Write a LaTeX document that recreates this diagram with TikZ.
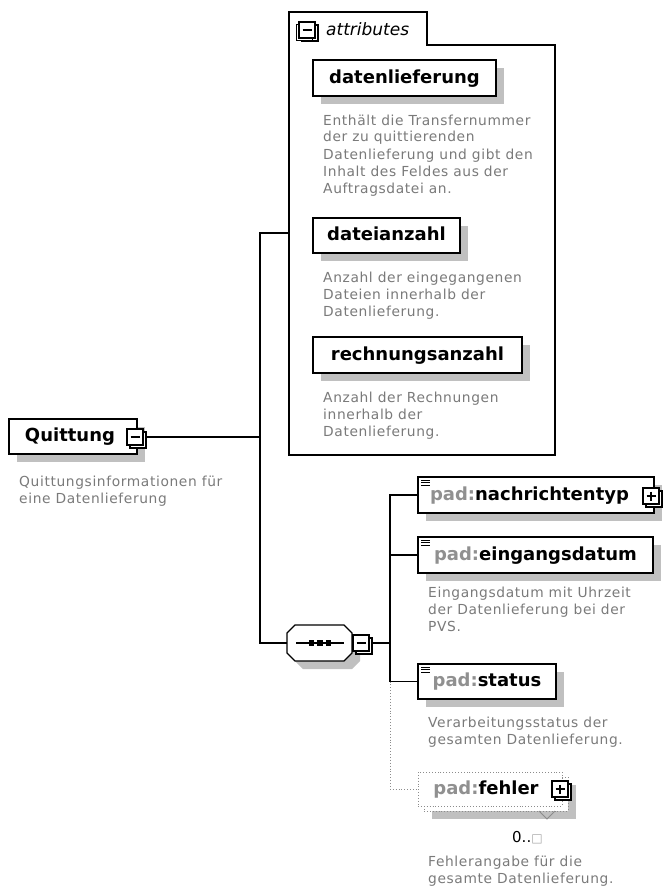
\documentclass[tikz,border=0pt]{standalone}
\usepackage{fontspec}
\setmainfont{DejaVu Sans}
\newfontfamily\descfam[LetterSpace=4.5]{DejaVu Sans}
\usetikzlibrary{shadows}
\definecolor{txtgray}{HTML}{7A7A7A}
\definecolor{padgray}{HTML}{909090}
\definecolor{shadowgray}{HTML}{C0C0C0}
\tikzset{
  conn/.style={line width=1.3pt},
  boxshadow/.style={drop shadow={shadow xshift=8pt, shadow yshift=-8pt, fill=shadowgray, draw=none, opacity=1}},
  elbox/.style={draw, line width=1.3pt, fill=white, inner sep=0pt, minimum height=36pt,
    text height=13.5pt, text depth=3pt, font=\fontsize{18}{20}\selectfont\bfseries, boxshadow},
  desc/.style={anchor=base west, inner sep=0pt, text=txtgray, font=\descfam\fontsize{13.8}{17}\selectfont},
  iconbase/.style={draw, fill=white, line width=1.1pt, minimum size=16pt, inner sep=0pt,
    general shadow={shadow xshift=3pt, shadow yshift=-3pt, draw=black, fill=white, line width=1.1pt}},
  minusicon/.style={iconbase, path picture={\draw[line width=1.2pt] ([xshift=3.5pt]path picture bounding box.west) -- ([xshift=-3.5pt]path picture bounding box.east);}},
  plusicon/.style={iconbase, path picture={\draw[line width=1.2pt] ([xshift=3.5pt]path picture bounding box.west) -- ([xshift=-3.5pt]path picture bounding box.east) ([yshift=-3.5pt]path picture bounding box.north) -- ([yshift=3.5pt]path picture bounding box.south);}},
  fbox/.style={draw=black!45, dotted, line width=0.9pt, fill=white, inner sep=0pt, minimum width=144pt, minimum height=34pt},
}
\newcommand\desclines[4]{%
  \foreach \l [count=\i from 0] in {#4} {\node[desc] (#1-\i) at ({#2},{#3+17*\i}) {\l};}}
\newcommand\typemark[1]{%
  \foreach \k in {4,6.5,9} {\draw[line width=0.9pt] ([shift={(4,\k)}]#1.north west) -- ++(9,0);}}
\begin{document}
\begin{tikzpicture}[x=1pt,y=-1pt]
\useasboundingbox (0,0) rectangle (664,888);

% attributes container
\draw[line width=1.3pt, fill=white] (289,455) -- (289,12) -- (427,12) -- (427,45) -- (555,45) -- (555,455) -- cycle;
\node[minusicon, general shadow={shadow xshift=-2.5pt, shadow yshift=-2.5pt, draw=black, fill=white, line width=1.1pt}] (aicon) at (307,30) {};
\node[anchor=base west, inner sep=0pt, font=\fontsize{17}{17}\selectfont\itshape] (alabel) at (326,36) {attributes};
\coordinate (attrIn) at (289,233);

\node[elbox, minimum width=183pt] (dl) at (404.5,78) {datenlieferung};
\desclines{ddl}{323}{125}{Enthält die Transfernummer,der zu quittierenden,Datenlieferung und gibt den,Inhalt des Feldes aus der,Auftragsdatei an.}
\node[elbox, minimum width=147pt, minimum height=35pt] (da) at (386.5,235.5) {dateianzahl};
\desclines{dda}{323}{282.5}{Anzahl der eingegangenen,Dateien innerhalb der,Datenlieferung.}
\node[elbox, minimum width=209pt] (ra) at (417.5,355) {rechnungsanzahl};
\desclines{dra}{323}{402.5}{Anzahl der Rechnungen,innerhalb der,Datenlieferung.}

% root element
\node[elbox, minimum width=128pt, minimum height=35pt] (quit) at (73,436.5) {Quittung\hspace*{6pt}};
\node[minusicon] (qicon) at (135,437) {};
\desclines{dq}{19}{486.5}{Quittungsinformationen für,eine Datenlieferung}

% sequence compositor
\fill[shadowgray, shift={(8,8)}] (295,625) -- (344,625) -- (352,633) -- (352,653) -- (344,661) -- (295,661) -- (287,653) -- (287,633) -- cycle;
\draw[line width=1.3pt, fill=white] (295,625) -- (344,625) -- (352,633) -- (352,653) -- (344,661) -- (295,661) -- (287,653) -- (287,633) -- cycle;
\coordinate (seqW) at (287,643);
\coordinate (seqE) at (352,643);
\draw[conn] (296,643) -- (344,643);
\foreach \cx in {311.5,320,328.5} \fill ({\cx-2.75},640.25) rectangle ++(5.5,5.5);
\node[minusicon] (sicon) at (361,643) {};

% children
\node[elbox, minimum width=236pt] (nt) at (536,495) {{\color{padgray}pad:}nachrichtentyp\hspace*{13pt}};
\typemark{nt}
\node[plusicon] (nticon) at (651,496) {};
\node[elbox, minimum width=235pt] (ed) at (535.5,555) {{\color{padgray}pad:}eingangsdatum};
\typemark{ed}
\desclines{ded}{428}{597.5}{Eingangsdatum mit Uhrzeit,der Datenlieferung bei der,PVS.}
\node[elbox, minimum width=138pt, minimum height=35pt] (st) at (487,681.5) {{\color{padgray}pad:}status};
\typemark{st}
\desclines{dst}{428}{727.5}{Verarbeitungsstatus der,gesamten Datenlieferung.}

\node[fbox, boxshadow] (fback) at (496,794) {};
\draw[black!45, line width=0.8pt] (539,811) -- (547,819) -- (555,811);
\node[fbox, text height=13.5pt, text depth=3pt, font=\fontsize{18}{20}\selectfont\bfseries] (fe) at (490,789) {{\color{padgray}pad:}fehler\hspace*{8pt}};
\node[plusicon] (feicon) at (560,789) {};
\node[anchor=base west, inner sep=0pt, font=\fontsize{15}{15}\selectfont] (card) at (512,842) {0..{\color{black!35}\fontsize{12}{12}\selectfont □}};
\desclines{dfe}{428}{866}{Fehlerangabe für die,gesamte Datenlieferung.}

% connectors
\coordinate (spine) at (260,643);
\coordinate (spine2) at (390,643);
\draw[conn] (attrIn) -- (attrIn -| spine) -- (spine) -- (seqW);
\draw[conn] ([xshift=3pt]qicon.east) -- (qicon.east -| spine);
\draw[conn] ([xshift=3pt]sicon.east) -- (spine2);
\draw[conn] (nt.west) -| (spine2) |- (st.west);
\draw[conn] (ed.west) -- (ed.west -| spine2);
\draw[black!45, dotted, line width=0.9pt] (st.west -| spine2) |- (fe.west);
\end{tikzpicture}
\end{document}
